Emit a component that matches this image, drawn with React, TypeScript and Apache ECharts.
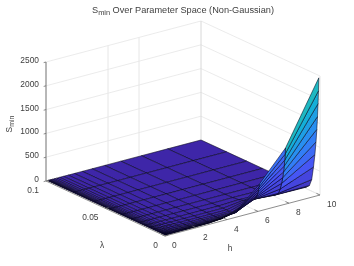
import React, { useEffect, useRef } from "react";
import * as echarts from "echarts";

const TITLE_REST = " Over Parameter Space (Non-Gaussian)";
const hGrid = [0.1, 0.127, 0.162, 0.207, 0.264, 0.336, 0.428, 0.546, 0.695, 0.886, 1.13, 1.44, 1.83, 2.34, 2.98, 3.79, 4.83, 6.16, 7.85, 10];
const lambdaGrid = [0.001, 0.00127, 0.00162, 0.00207, 0.00264, 0.00336, 0.00428, 0.00546, 0.00695, 0.00886, 0.0113, 0.0144, 0.0183, 0.0234, 0.0298, 0.0379, 0.0483, 0.0616, 0.0785, 0.1];
// Smin[h index][lambda index]
const Smin = [
  [0,0,0,0,0,0,0,0,0,0,0,0,0,0,0,0,0,0,0,0],
  [0,0,0,0,0,0,0,0,0,0,0,0,0,0,0,0,0,0,0,0],
  [0,0,0,0,0,0,0,0,0,0,0,0,0,0,0,0,0,0,0,0],
  [0,0,0,0,0,0,0,0,0,0,0,0,0,0,0,0,0,0,0,0],
  [0,0,0,0,0,0,0,0,0,0,0,0,0,0,0,0,0,0,0,0],
  [0,0,0,0,0,0,0,0,0,0,0,0,0,0,0,0,0,0,0,0],
  [0,0,0,0,0,0,0,0,0,0,0,0,0,0,0,0,0,0,0,0],
  [0,0,0,0,0,0,0,0,0,0,0,0,0,0,0,0,0,0,0,0],
  [0,0,0,0,0,0,0,0,0,0,0,0,0,0,0,0,0,0,0,0],
  [0,0,0,0,0,0,0,0,0,0,0,0,0,0,0,0,0,0,0,0],
  [1,1,0,0,0,0,0,0,0,0,0,0,0,0,0,0,0,0,0,0],
  [2,1,1,1,0,0,0,0,0,0,0,0,0,0,0,0,0,0,0,0],
  [3,2,2,1,1,0,0,0,0,0,0,0,0,0,0,0,0,0,0,0],
  [5,4,3,2,1,1,0,0,0,0,0,0,0,0,0,0,0,0,0,0],
  [12,8,5,3,2,1,1,0,0,0,0,0,0,0,0,0,0,0,0,0],
  [40,30,22,14,8,4,2,1,0,0,0,0,0,0,0,0,0,0,0,0],
  [150,130,110,85,60,40,20,8,2,0,0,0,0,0,0,0,0,0,0,0],
  [546,485,425,365,305,255,210,175,150,125,90,50,20,6,1,0,0,0,0,0],
  [1160,1030,900,769,639,509,379,248,140,90,45,15,4,1,0,0,0,0,0,0],
  [2450,2175,1900,1625,1350,1075,800,525,245,98,37,12,4,1,0,0,0,0,0,0],
];
const zTicks = [0, 500, 1000, 1500, 2000, 2500];
const hTicks = [0, 2, 4, 6, 8, 10];
const lambdaTicks = [0, 0.05, 0.1];
const lambdaTickLabels = ["0", "0.05", "0.1"];
const wallVerticalsH = [4, 6, 10];
const parula = ["#3E26A8", "#4852F4", "#2D87F7", "#12B1D6", "#37C897", "#ABC739", "#FEC338", "#F9FB15"];

const COLOR_MAX = 2450;
const ORIGIN_X = 165, ORIGIN_Y = 236;
const project = (h: number, l: number, z: number): [number, number] => [
  ORIGIN_X + 15.5 * h - 1190 * l,
  ORIGIN_Y - 4.1 * h - 550 * l - 0.0476 * z,
];

const FONT = "Liberation Sans, Arial, sans-serif";
const TEXT = "#404040";
const WALL = "#e6e6e6";
const AXIS = "#707070";

function buildOption() {
  const cells: number[][] = [];
  for (let i = hGrid.length - 2; i >= 0; i--)
    for (let k = lambdaGrid.length - 2; k >= 0; k--) cells.push([i, k]);

  const line = (api: any, a: number[], b: number[], stroke: string, lineWidth: number) => {
    const p = api.coord(project(a[0], a[1], a[2]));
    const q = api.coord(project(b[0], b[1], b[2]));
    return { type: "line", shape: { x1: p[0], y1: p[1], x2: q[0], y2: q[1] }, style: { stroke, lineWidth } };
  };
  const label = (api: any, at: [number, number], text: string, align: string, extra: any = {}) => {
    const p = api.coord(at);
    return {
      type: "text", x: p[0], y: p[1], ...extra,
      style: { text, fill: TEXT, fontSize: 8.4, fontFamily: FONT, align, verticalAlign: "middle", ...(extra.style || {}) },
    };
  };

  const maxH = 10, maxL = 0.1, maxZ = 2500;

  const backdrop = (_: any, api: any) => {
    const children: any[] = [];
    zTicks.forEach((z) => {
      children.push(line(api, [0, maxL, z], [maxH, maxL, z], WALL, 0.8));
      children.push(line(api, [maxH, maxL, z], [maxH, 0, z], WALL, 0.8));
    });
    wallVerticalsH.forEach((h) => children.push(line(api, [h, maxL, 0], [h, maxL, maxZ], h === maxH ? "#d8d8d8" : WALL, 1)));
    children.push(line(api, [maxH, 0, 0], [maxH, 0, maxZ], "#dedede", 0.8));
    hTicks.slice(1).forEach((h) => children.push(line(api, [h, 0, 0], [h, maxL, 0], WALL, 0.8)));
    lambdaTicks.slice(1).forEach((l) => children.push(line(api, [0, l, 0], [maxH, l, 0], WALL, 0.8)));
    return { type: "group", children };
  };

  const surface = (_: any, api: any) => {
    const i = api.value(0), k = api.value(1);
    const corners = [[i, k], [i + 1, k], [i + 1, k + 1], [i, k + 1]];
    const points = corners.map(([a, b]) => api.coord(project(hGrid[a], lambdaGrid[b], Smin[a][b])));
    return {
      type: "polygon",
      shape: { points },
      style: {
        fill: echarts.color.lerp(Math.min(1, Smin[i][k] / COLOR_MAX), parula),
        stroke: "rgba(5,5,25,0.68)",
        lineWidth: 0.8,
      },
    };
  };

  const axes = (_: any, api: any) => {
    const children: any[] = [];
    children.push(line(api, [0, maxL, 0], [0, maxL, maxZ], AXIS, 1));
    children.push(line(api, [0, 0, 0], [maxH, 0, 0], AXIS, 0.8));
    children.push(line(api, [0, 0, 0], [0, maxL, 0], AXIS, 0.8));
    zTicks.forEach((z) => {
      children.push(line(api, [0, maxL, z], [-0.15, maxL, z], AXIS, 0.8));
      const p = project(0, maxL, z);
      children.push(label(api, [p[0] - 7, p[1] - 2], String(z), "right"));
    });
    hTicks.forEach((h) => {
      children.push(line(api, [h, 0, 0], [h, 0.003, 0], AXIS, 0.8));
      const p = project(h, 0, 0);
      children.push(label(api, [p[0] + 7, p[1] + 9], String(h), "left"));
    });
    lambdaTicks.forEach((l, n) => {
      children.push(line(api, [0, l, 0], [0.2, l, 0], AXIS, 0.8));
      const p = project(0, l, 0);
      children.push(label(api, [p[0] - 7, p[1] + 8.5], lambdaTickLabels[n], "right"));
    });
    children.push(label(api, [230, 248], "h", "center"));
    children.push(label(api, [102, 245], "\u03bb", "center"));
    const s = api.coord([9, 124]);
    children.push({
      type: "text", x: s[0], y: s[1], rotation: Math.PI / 2,
      style: {
        text: "{a|S}{b|min}", align: "center", verticalAlign: "middle",
        rich: {
          a: { fontSize: 8.4, fontFamily: FONT, fill: TEXT, color: TEXT },
          b: { fontSize: 7, fontFamily: FONT, fill: TEXT, color: TEXT, verticalAlign: "bottom", padding: [5, 0, 0, 0] },
        },
      },
    });
    return { type: "group", children };
  };

  const custom = (renderItem: any, data: number[][]) => ({
    type: "custom", coordinateSystem: "cartesian2d", renderItem, data, clip: false, silent: true,
  });

  return {
    animation: false,
    backgroundColor: "#ffffff",
    title: {
      text: `{a|S}{b|min}{a|${TITLE_REST}}`,
      left: 92,
      top: 4,
      padding: 0,
      textStyle: {
        fontWeight: "normal",
        rich: {
          a: { fontSize: 9.2, fontFamily: FONT, color: TEXT, fontWeight: "normal" },
          b: { fontSize: 7.4, fontFamily: FONT, color: TEXT, fontWeight: "normal", verticalAlign: "bottom", padding: [5, 0, 0, 0] },
        },
      },
    },
    grid: { left: 0, right: 0, top: 0, bottom: 0 },
    xAxis: { type: "value", min: 0, max: 354, show: false },
    yAxis: { type: "value", min: 0, max: 266, inverse: true, show: false },
    series: [custom(backdrop, [[0, 0]]), custom(surface, cells), custom(axes, [[0, 0]])],
  };
}

export default function App() {
  const ref = useRef<HTMLDivElement>(null);
  useEffect(() => {
    const chart = echarts.init(ref.current!, undefined, { renderer: "svg" });
    chart.setOption(buildOption() as any);
    return () => chart.dispose();
  }, []);
  return <div ref={ref} style={{ position: "absolute", left: 0, top: 0, width: 354, height: 266, filter: "blur(0.3px)" }} />;
}
